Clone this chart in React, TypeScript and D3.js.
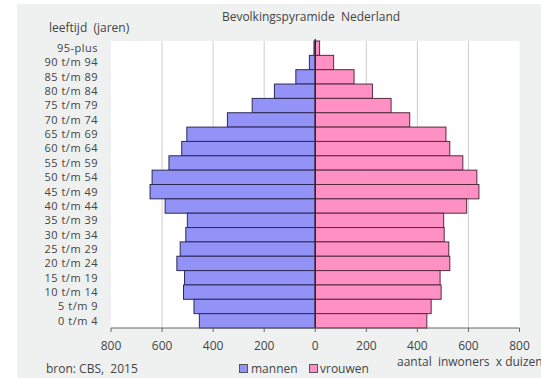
import React from "react";
import * as d3 from "d3";

const categories = ["95-plus", "90 t/m 94", "85 t/m 89", "80 t/m 84", "75 t/m 79", "70 t/m 74", "65 t/m 69", "60 t/m 64", "55 t/m 59", "50 t/m 54", "45 t/m 49", "40 t/m 44", "35 t/m 39", "30 t/m 34", "25 t/m 29", "20 t/m 24", "15 t/m 19", "10 t/m 14", "5 t/m 9", "0 t/m 4"];
const mannen = [5, 23, 76, 160, 247, 344, 503, 523, 573, 639, 647, 588, 501, 507, 529, 542, 512, 516, 475, 454];
const vrouwen = [17, 72, 152, 224, 297, 370, 512, 527, 578, 633, 641, 593, 503, 505, 523, 527, 489, 493, 454, 437];
const tickValues = [-800, -600, -400, -200, 0, 200, 400, 600, 800];

const FONT = "'Open Sans', 'DejaVu Sans', sans-serif";

export default function App() {
  const W = 541, H = 378;
  const left = 111, right = 519.5, top = 41, bottom = 328;
  const x = d3.scaleLinear().domain([-800, 800]).range([left, right]);
  const y = d3.scaleBand().domain(categories).range([top, bottom]).padding(0);
  const textColor = "#444";
  const fs = 12;
  return (
    <svg width={W} height={H} style={{ position: "absolute", left: 0, top: 0, display: "block" }} fontFamily={FONT}>
      <rect x={0} y={0} width={W} height={H} fill="#ffffff" />
      <rect x={17} y={4} width={W - 17} height={H - 4} fill="#eef1f0" />
      <rect x={left} y={top} width={right - left} height={bottom - top} fill="#ffffff" />
      {tickValues.filter(t => t !== 0 && Math.abs(t) !== 800).map(t => (
        <line key={"g" + t} x1={x(t)} x2={x(t)} y1={top} y2={bottom} stroke="#cfcfcf" strokeWidth={1} />
      ))}
      {categories.map((c, i) => (
        <g key={c}>
          <rect x={x(-mannen[i])} y={y(c)!} width={x(0) - x(-mannen[i])} height={y.bandwidth()} fill="#9393f7" stroke="#2a2a55" strokeWidth={1} />
          <rect x={x(0)} y={y(c)!} width={x(vrouwen[i]) - x(0)} height={y.bandwidth()} fill="#ff90c4" stroke="#552a3f" strokeWidth={1} />
          <text x={98} y={y(c)! + y.bandwidth() / 2} dy="0.35em" textAnchor="end" fontSize={11} letterSpacing={0.5} fill={textColor}>{c}</text>
        </g>
      ))}
      <line x1={x(0)} x2={x(0)} y1={top - 2} y2={bottom} stroke="#222" strokeWidth={1.2} />
      <line x1={left} x2={right} y1={bottom} y2={bottom} stroke="#666" strokeWidth={1} />
      {tickValues.map(t => (
        <g key={"t" + t}>
          <line x1={x(t)} x2={x(t)} y1={bottom} y2={bottom + 4} stroke="#666" strokeWidth={1} />
          <text x={x(t)} y={346} dy="0.35em" textAnchor="middle" fontSize={fs} fill={textColor}>{Math.abs(t)}</text>
        </g>
      ))}
      <text x={311} y={17} dy="0.35em" textAnchor="middle" fontSize={fs} fill={textColor} style={{ whiteSpace: "pre" }}>{"Bevolkingspyramide  Nederland"}</text>
      <text x={49} y={28} dy="0.35em" fontSize={fs} fill={textColor} style={{ whiteSpace: "pre" }}>{"leeftijd  (jaren)"}</text>
      <text x={46} y={369} dy="0.35em" fontSize={fs} fill={textColor} style={{ whiteSpace: "pre" }}>{"bron: CBS,  2015"}</text>
      <rect x={239.5} y={364.5} width={8} height={8} fill="#9393f7" stroke="#555" strokeWidth={1} />
      <text x={251} y={369} dy="0.35em" fontSize={fs} fill={textColor}>mannen</text>
      <rect x={309.5} y={364.5} width={8} height={8} fill="#ff90c4" stroke="#555" strokeWidth={1} />
      <text x={320} y={369} dy="0.35em" fontSize={fs} fill={textColor}>vrouwen</text>
      <text x={397} y={362} dy="0.35em" fontSize={fs} fill={textColor} style={{ whiteSpace: "pre" }}>{"aantal  inwoners  x duizend"}</text>
    </svg>
  );
}
